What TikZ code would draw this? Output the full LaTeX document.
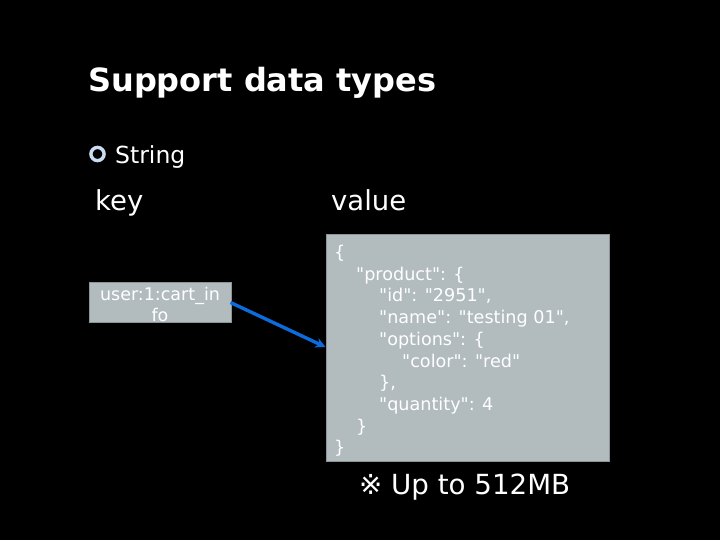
\documentclass[tikz,border=0pt]{standalone}
\usepackage{fontspec}
\setmainfont{DejaVu Sans}[Ligatures=TeXOff]
\usetikzlibrary{arrows.meta}
\definecolor{boxfill}{HTML}{B2BBBE}
\definecolor{boxline}{HTML}{8C9597}
\definecolor{arrowblue}{HTML}{0C6CDC}
\definecolor{bulletblue}{HTML}{C8DCF2}
\tikzset{
  txt/.style={text=white, inner sep=0pt, anchor=base west},
  ctxt/.style={text=white, inner sep=0pt, anchor=base},
  gbox/.style={fill=boxfill, draw=boxline, line width=1.2pt, inner sep=0pt},
}
\begin{document}
\begin{tikzpicture}[x=1pt,y=-1pt]
\fill[black] (0,0) rectangle (720,540);
\useasboundingbox (0,0) rectangle (720,540);
% title
\node[txt, font=\fontsize{32}{38}\selectfont\bfseries] (title) at (88,92) {Support data types};
% bullet
\draw[bulletblue, line width=3.4pt] (97.5,154) circle (6.6);
\node[txt, font=\fontsize{23.5}{28}\selectfont] (string) at (115,164) {String};
\node[txt, font=\fontsize{27.5}{32}\selectfont] (key) at (95,210.5) {key};
\node[txt, font=\fontsize{27.5}{32}\selectfont] (value) at (331,210.5) {value};
% key box
\node[gbox, minimum width=142, minimum height=39.5, anchor=north west] (keybox) at (88.8,282) {};
\begin{scope}[font=\fontsize{17.5}{21}\selectfont]
\node[ctxt] (keytext1) at (160,300) {user:1:cart\_in};
\node[ctxt] (keytext2) at (160,321) {fo};
\end{scope}
% value box
\node[gbox, minimum width=283, minimum height=227, anchor=north west] (valbox) at (326,234) {};
\begin{scope}[font=\fontsize{17.6}{21}\selectfont]
\node[txt] (l1) at (334,258.5) {\{};
\node[txt] (l2) at (356,280.2) {"product": \{};
\node[txt] (l3) at (379,301.9) {"id": "2951",};
\node[txt] (l4) at (379,323.6) {"name": "testing 01",};
\node[txt] (l5) at (379,345.3) {"options": \{};
\node[txt] (l6) at (402,367) {"color": "red"};
\node[txt] (l7) at (379,388.7) {\},};
\node[txt] (l8) at (379,410.4) {"quantity": 4};
\node[txt] (l9) at (356,432.1) {\}};
\node[txt] (l10) at (334,453.8) {\}};
\end{scope}
% note
\node[txt, font=\fontsize{27.7}{32}\selectfont] (note) at (359,494) {※ Up to 512MB};
% arrow
\coordinate (arrstart) at (230.5,302.5);
\coordinate (arrend) at (325.5,347);
\draw[arrowblue, line width=3.4pt, -{Stealth[length=10pt,width=10pt]}] (arrstart) -- (arrend);
\end{tikzpicture}
\end{document}
